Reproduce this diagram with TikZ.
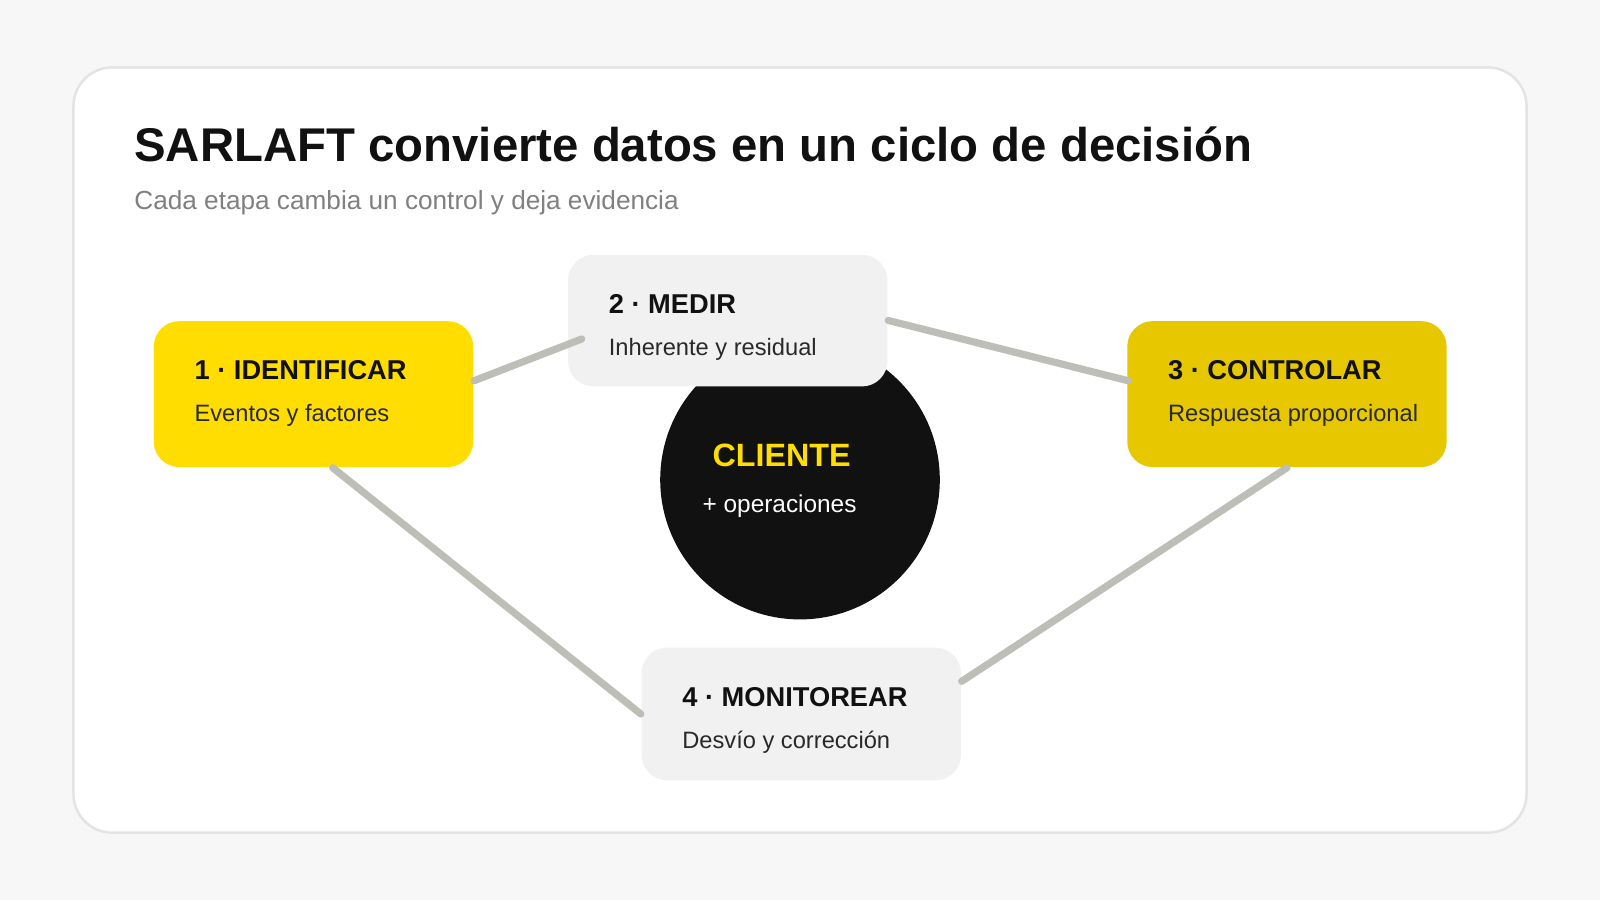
\documentclass[tikz,border=0pt]{standalone}
\usepackage{fontspec}
\setmainfont{Liberation Sans}
\usetikzlibrary{positioning,calc}
\definecolor{pagebg}{HTML}{F7F7F7}
\definecolor{cardline}{HTML}{E4E4E4}
\definecolor{yellowA}{HTML}{FFDD00}
\definecolor{yellowB}{HTML}{E6C700}
\definecolor{stepgray}{HTML}{F1F1F1}
\definecolor{linkgray}{HTML}{BEBEB8}
\definecolor{ink}{HTML}{111111}
\tikzset{
  stagebox/.style={rounded corners=0.25cm, minimum width=3.13cm, minimum height=1.43cm, anchor=north west},
  steptitle/.style={anchor=west, font=\fontsize{7.6pt}{9pt}\selectfont\bfseries, text=ink, inner sep=0pt},
  stepbody/.style={anchor=west, font=\fontsize{6.6pt}{8pt}\selectfont, text=ink!90, inner sep=0pt},
  link/.style={draw=linkgray, line width=2pt, line cap=round}
}
\begin{document}
\begin{tikzpicture}
  \useasboundingbox[fill=pagebg] (0,0) rectangle (15.68,-8.82);
  \draw[fill=white, draw=cardline, line width=0.7pt, rounded corners=0.38cm] (0.72,-0.66) rectangle (14.96,-8.16);
  % title
  \node[anchor=base west, inner sep=0pt, font=\fontsize{13.2pt}{15pt}\selectfont\bfseries, text=ink] (title) at (1.31,-1.58) {SARLAFT convierte datos en un ciclo de decisión};
  \node[anchor=base west, inner sep=0pt, font=\fontsize{7.3pt}{9pt}\selectfont, text=gray] (sub) at (1.31,-2.05) {Cada etapa cambia un control y deja evidencia};
  % center
  \node[circle, fill=ink, minimum size=2.74cm] (client) at (7.84,-4.70) {};
  \node[font=\fontsize{9pt}{11pt}\selectfont\bfseries, text=yellowA] (cl) at (7.66,-4.46) {CLIENTE};
  \node[font=\fontsize{6.8pt}{8pt}\selectfont, text=white] (ops) at (7.64,-4.96) {+ operaciones};
  % steps
  \node[stagebox, fill=yellowA] (s1) at (1.50,-3.14) {};
  \node[stagebox, fill=stepgray, minimum height=1.29cm] (s2) at (5.56,-2.49) {};
  \node[stagebox, fill=yellowB] (s3) at (11.04,-3.14) {};
  \node[stagebox, fill=stepgray, minimum height=1.30cm] (s4) at (6.28,-6.34) {};
  \foreach \s/\t/\b in {s1/1 · IDENTIFICAR/Eventos y factores, s2/2 · MEDIR/Inherente y residual,
      s3/3 · CONTROLAR/Respuesta proporcional, s4/4 · MONITOREAR/Desvío y corrección} {
    \node[steptitle] (\s t) at ($(\s.north west)+(0.40,-0.49)$) {\t};
    \node[stepbody] (\s b) at ($(\s.north west)+(0.40,-0.93)$) {\b};
  }
  % links
  \coordinate (s2l) at ($(s2.west)+(0.14,-0.18)$);
  \coordinate (s4r) at ($(s4.east)+(0,0.32)$);
  \draw[link] ($(s1.east)+(0,0.13)$) -- (s2l);
  \draw[link] ($(s2.north east)+(0,-0.65)$) -- ($(s3.west)+(0.02,0.13)$);
  \draw[link] ($(s1.south west)!0.56!(s1.south east)$) -- (s4.west);
  \draw[link] ($(s3.south west)!0.5!(s3.south east)$) -- (s4r);
\end{tikzpicture}
\end{document}
